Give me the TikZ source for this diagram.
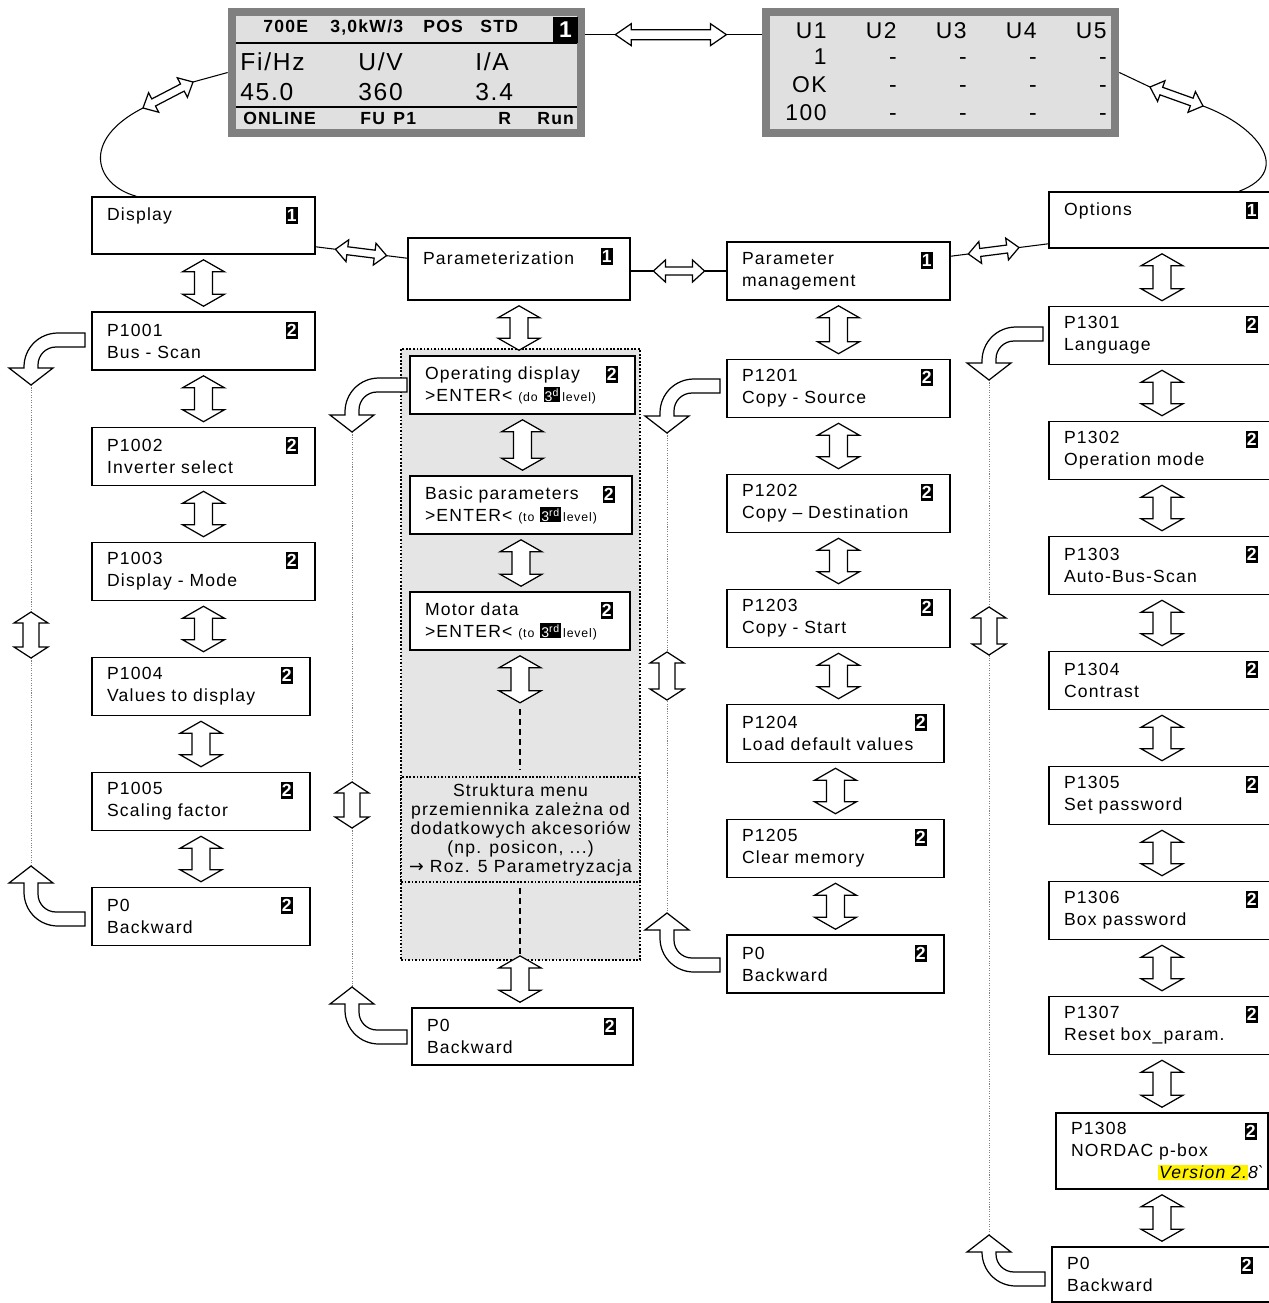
\documentclass[tikz,border=0pt]{standalone}
\usepackage{fontspec}
\setmainfont{Liberation Sans}[LetterSpace=7]
\newfontfamily\arrowfont{DejaVu Sans}
\usepackage{tikz}
\usetikzlibrary{calc}
\usepackage{xcolor}

\newdimen\pxu
\pxu=0.02cm
\setlength{\fboxsep}{0.6pt}
\definecolor{lcdface}{gray}{0.88}
\definecolor{lcdrim}{gray}{0.5}
\definecolor{areagray}{gray}{0.9}

% hollow double arrow: from, to, half head, half shaft, head length (px)
\newcommand\hollowdbl[5]{%
  \coordinate (dA) at ($(#1)!#5*0.569pt!(#2)$);
  \coordinate (dB) at ($(#2)!#5*0.569pt!(#1)$);
  \draw[hollow] (#1) -- ($(dA)!#3*0.569pt!90:(#2)$) -- ($(dA)!#4*0.569pt!90:(#2)$)
    -- ($(dB)!#4*0.569pt!-90:(#1)$) -- ($(dB)!#3*0.569pt!-90:(#1)$) -- (#2)
    -- ($(dB)!#3*0.569pt!90:(#1)$) -- ($(dB)!#4*0.569pt!90:(#1)$)
    -- ($(dA)!#4*0.569pt!-90:(#2)$) -- ($(dA)!#3*0.569pt!-90:(#2)$) -- cycle;}
\newcommand\vstep[2]{%
  \coordinate (#1-d) at ($(#1.south)+(0,5)$);
  \coordinate (#2-u) at ($(#1.south |- #2.north)+(0,-5)$);
  \hollowdbl{#1-d}{#2-u}{21}{9}{12}}
\newcommand\lvl[3][-24]{\node[num] (#2-n) at ($(#2.north east)+(#1,19)$) {#3};}
% bent return arrow: shaft end x, shaft y, tip x, tip y, 1 down / -1 up
\newcommand\bentarr[5]{%
  \draw[hollow] (#1,{#2-(#5)*7}) -- ({#3+27},{#2-(#5)*7})
    .. controls ({#3+8},{#2-(#5)*7}) and ({#3-7},{#2+(#5)*8}) .. ({#3-7},{#2+(#5)*27})
    -- ({#3-7},{#4-(#5)*17}) -- ({#3-22},{#4-(#5)*17}) -- (#3,#4)
    -- ({#3+22},{#4-(#5)*17}) -- ({#3+7},{#4-(#5)*17})
    -- ({#3+7},{#2+(#5)*25}) .. controls ({#3+7},{#2+(#5)*15}) and ({#3+15},{#2+(#5)*7}) .. ({#3+25},{#2+(#5)*7})
    -- (#1,{#2+(#5)*7}) -- cycle;}
\newcommand\lvlnote[3]{{\fontsize{7}{7}\selectfont(#1 \colorbox{black}{\textcolor{white}{\fontsize{8}{8}\selectfont#2\textsuperscript{#3}}}\,level)}}

\begin{document}
\begin{tikzpicture}[x=0.02cm,y=-0.02cm,font=\fontsize{10}{12.5}\selectfont,
  box/.style={draw,fill=white,line width=0.9pt,minimum height=58\pxu,inner xsep=15\pxu,inner ysep=0pt,align=left},
  bw/.code={\pgfmathsetlengthmacro\boxtw{(#1-30)*\pxu}\pgfkeysalso{minimum width=#1\pxu,text width=\boxtw}},
  num/.style={fill=black,text=white,font=\bfseries\fontsize{10}{10}\selectfont,inner sep=0.5pt,minimum width=12\pxu,minimum height=17\pxu},
  hollow/.style={draw,fill=white,line width=0.7pt,line join=miter},
  link/.style={line width=0.6pt},
  dotline/.style={gray,line width=0.5pt,dash pattern=on 0.6pt off 0.8pt},
  dashline/.style={line width=0.7pt,dash pattern=on 3.4pt off 2.3pt},
  area/.style={fill=areagray,draw,line width=1pt,dash pattern=on 1pt off 1pt,inner sep=0pt},
  lcdframe/.style={fill=lcdrim,inner sep=0pt,minimum width=357\pxu,minimum height=129\pxu},
  lcdhead/.style={font=\bfseries\fontsize{10}{10}\selectfont,anchor=base west,inner sep=0pt},
  lcdbig/.style={font=\fontsize{14}{14}\selectfont,anchor=base west,inner sep=0pt},
  lcdval/.style={font=\fontsize{13}{13}\selectfont,anchor=base east,inner sep=0pt}]
\useasboundingbox (0,0) rectangle (1269,1303);
\clip (0,0) rectangle (1269,1303);

% operating display
\node[lcdframe] (lcdL) at (406.5,72.5) {};
\fill[lcdface] ($(lcdL.south west)+(8,-8)$) rectangle ($(lcdL.north east)+(-8,8)$);
\draw[line width=1.1pt] ($(lcdL.north west)+(8,35)$) -- ($(lcdL.north east)+(-8,35)$);
\draw[line width=1.1pt] ($(lcdL.north west)+(8,99)$) -- ($(lcdL.north east)+(-8,99)$);
\node[lcdhead] (h1) at (263,32) {700E};
\node[lcdhead] (h2) at (330,32) {3,0kW/3};
\node[lcdhead] (h3) at (423,32) {POS};
\node[lcdhead] (h4) at (480,32) {STD};
\node[num,font=\bfseries\fontsize{13}{13}\selectfont,minimum width=25\pxu,minimum height=26\pxu] (lcdL-n) at (565.5,30) {1};
\node[lcdbig] (r1a) at (240,70) {Fi/Hz};
\node[lcdbig] (r1b) at (358,70) {U/V};
\node[lcdbig] (r1c) at (475,70) {I/A};
\node[lcdbig] (r2a) at (240,100) {45.0};
\node[lcdbig] (r2b) at (358,100) {360};
\node[lcdbig] (r2c) at (475,100) {3.4};
\node[lcdhead] (f1) at (243,124) {ONLINE};
\node[lcdhead] (f2) at (360,124) {FU};
\node[lcdhead] (f3) at (393,124) {P1};
\node[lcdhead] (f4) at (498,124) {R};
\node[lcdhead] (f5) at (537,124) {Run};

% bus display
\node[lcdframe] (lcdR) at (940.5,72.5) {};
\fill[lcdface] ($(lcdR.south west)+(8,-8)$) rectangle ($(lcdR.north east)+(-8,8)$);
\node[lcdval] (ua1) at (827,38) {U1};
\node[lcdval] (ua2) at (897,38) {U2};
\node[lcdval] (ua3) at (967,38) {U3};
\node[lcdval] (ua4) at (1037,38) {U4};
\node[lcdval] (ua5) at (1107,38) {U5};
\node[lcdval] (ub1) at (827,64) {1};
\node[lcdval] (ub2) at (897,64) {-};
\node[lcdval] (ub3) at (967,64) {-};
\node[lcdval] (ub4) at (1037,64) {-};
\node[lcdval] (ub5) at (1107,64) {-};
\node[lcdval] (uc1) at (827,92) {OK};
\node[lcdval] (uc2) at (897,92) {-};
\node[lcdval] (uc3) at (967,92) {-};
\node[lcdval] (uc4) at (1037,92) {-};
\node[lcdval] (uc5) at (1107,92) {-};
\node[lcdval] (ud1) at (827,120) {100};
\node[lcdval] (ud2) at (897,120) {-};
\node[lcdval] (ud3) at (967,120) {-};
\node[lcdval] (ud4) at (1037,120) {-};
\node[lcdval] (ud5) at (1107,120) {-};

\coordinate (t1) at ($(lcdL.north east)+(0,27)$);
\coordinate (t2) at ($(lcdR.north west)+(0,27)$);
\draw[link] (t1) -- (t2);
\coordinate (t1a) at ($(t1)!0.17!(t2)$);
\coordinate (t2a) at ($(t1)!0.8!(t2)$);
\hollowdbl{t1a}{t2a}{11}{5}{16}

% middle area
\node[area,minimum width=239\pxu,minimum height=611\pxu] (grp) at (520.5,654.5) {};
\node[area,minimum width=239\pxu,minimum height=105\pxu,align=center,font=\fontsize{10}{10.8}\selectfont] (note) at (520.5,829.5)
  {Struktura menu\\przemiennika zależna od\\dodatkowych akcesoriów\\(np. posicon, ...)\\{\arrowfont →} Roz. 5 Parametryzacja};

% display column
\node[box,bw=223,minimum height=57\pxu] (disp) at (203.5,225.5) {Display\\~};
\node[box,bw=223] (p1001) at (203.5,341) {P1001\\Bus - Scan};
\node[box,bw=223] (p1002) at (203.5,456.5) {P1002\\Inverter select};
\node[box,bw=223] (p1003) at (203.5,571.5) {P1003\\Display - Mode};
\node[box,bw=218] (p1004) at (201,686.5) {P1004\\Values to display};
\node[box,bw=218] (p1005) at (201,801.5) {P1005\\Scaling factor};
\node[box,bw=218] (back1) at (201,916.5) {P0\\Backward};

% parameterization column
\node[box,bw=222,minimum height=62\pxu] (param) at (519,269) {Parameterization\\~};
\node[box,bw=225] (opdisp) at (522.5,385) {Operating display\\>ENTER< \lvlnote{do}{3}{d}};
\node[box,bw=222] (basic) at (521,505) {Basic parameters\\>ENTER< \lvlnote{to}{3}{rd}};
\node[box,bw=220] (motor) at (520,621) {Motor data\\>ENTER< \lvlnote{to}{3}{rd}};
\node[box,bw=221,minimum height=57\pxu] (back2) at (522.5,1036.5) {P0\\Backward};

% parameter management column
\node[box,bw=223] (pm) at (838.5,271) {Parameter\\management};
\node[box,bw=223] (p1201) at (838.5,388.5) {P1201\\Copy - Source};
\node[box,bw=223] (p1202) at (838.5,503.5) {P1202\\Copy – Destination};
\node[box,bw=223] (p1203) at (838.5,618.5) {P1203\\Copy - Start};
\node[box,bw=217] (p1204) at (835.5,733.5) {P1204\\Load default values};
\node[box,bw=217] (p1205) at (835.5,848.5) {P1205\\Clear memory};
\node[box,bw=217] (back3) at (835.5,964) {P0\\Backward};

% options column
\node[box,bw=226,minimum height=56\pxu] (opts) at (1162,220) {Options\\~};
\node[box,bw=226] (p1301) at (1162,335.5) {P1301\\Language};
\node[box,bw=226] (p1302) at (1162,450.5) {P1302\\Operation mode};
\node[box,bw=226] (p1303) at (1162,565.5) {P1303\\Auto-Bus-Scan};
\node[box,bw=226] (p1304) at (1162,680.5) {P1304\\Contrast};
\node[box,bw=226] (p1305) at (1162,795.5) {P1305\\Set password};
\node[box,bw=226] (p1306) at (1162,910.5) {P1306\\Box password};
\node[box,bw=226] (p1307) at (1162,1025.5) {P1307\\Reset box\_param.};
\node[box,bw=212,minimum height=76\pxu] (p1308) at (1162,1151)
  {P1308\\NORDAC p-box\\\hspace*{87\pxu}\rlap{\itshape\colorbox{yellow}{Version 2.}8\textasciigrave}};
\node[box,bw=223,minimum height=55\pxu] (back4) at (1163.5,1274.5) {P0\\Backward};

\lvl{disp}{1}
\lvl{p1001}{2}
\lvl{p1002}{2}
\lvl{p1003}{2}
\lvl{p1004}{2}
\lvl{p1005}{2}
\lvl{back1}{2}
\lvl{param}{1}
\lvl{opdisp}{2}
\lvl{basic}{2}
\lvl{motor}{2}
\lvl{back2}{2}
\lvl{pm}{1}
\lvl{p1201}{2}
\lvl{p1202}{2}
\lvl{p1203}{2}
\lvl{p1204}{2}
\lvl{p1205}{2}
\lvl{back3}{2}
\lvl{opts}{1}
\lvl{p1301}{2}
\lvl{p1302}{2}
\lvl{p1303}{2}
\lvl{p1304}{2}
\lvl{p1305}{2}
\lvl{p1306}{2}
\lvl{p1307}{2}
\lvl[-18]{p1308}{2}
\lvl[-29]{back4}{2}

% up/down steps
\vstep{disp}{p1001}
\vstep{p1001}{p1002}
\vstep{p1002}{p1003}
\vstep{p1003}{p1004}
\vstep{p1004}{p1005}
\vstep{p1005}{back1}
\vstep{param}{opdisp}
\vstep{opdisp}{basic}
\vstep{basic}{motor}
\vstep{pm}{p1201}
\vstep{p1201}{p1202}
\vstep{p1202}{p1203}
\vstep{p1203}{p1204}
\vstep{p1204}{p1205}
\vstep{p1205}{back3}
\vstep{opts}{p1301}
\vstep{p1301}{p1302}
\vstep{p1302}{p1303}
\vstep{p1303}{p1304}
\vstep{p1304}{p1305}
\vstep{p1305}{p1306}
\vstep{p1306}{p1307}
\vstep{p1307}{p1308}
\vstep{p1308}{back4}

\coordinate (mo1) at ($(motor.south)+(0,5)$);
\coordinate (mo2) at ($(motor.south)+(0,52)$);
\hollowdbl{mo1}{mo2}{21}{9}{12}
\draw[dashline] ($(mo2)+(0,6)$) -- ($(mo2 |- note.north)+(0,-7)$);
\draw[dashline] ($(mo2 |- note.south)+(0,5)$) -- ($(mo2 |- note.south)+(0,71)$);
\coordinate (bk1) at ($(mo2 |- grp.south)+(0,-5)$);
\coordinate (bk2) at ($(mo2 |- back2.north)+(0,-5)$);
\hollowdbl{bk1}{bk2}{21}{9}{12}

% links between the menu heads
\coordinate (c1) at ($(disp.south east)+(0,-8)$);
\coordinate (c2) at ($(param.north west)+(0,21)$);
\draw[link] (c1) -- (c2);
\coordinate (c1a) at ($(c1)!0.215!(c2)$);
\coordinate (c2a) at ($(c1)!0.774!(c2)$);
\hollowdbl{c1a}{c2a}{11}{4}{12}
\coordinate (c3) at (param.east |- pm.east);
\coordinate (c4) at (pm.west);
\draw[link] (c3) -- (c4);
\coordinate (c3a) at ($(c3)!0.237!(c4)$);
\coordinate (c4a) at ($(c3)!0.773!(c4)$);
\hollowdbl{c3a}{c4a}{11}{4}{12}
\coordinate (c5) at ($(pm.north east)+(0,15)$);
\coordinate (c6) at ($(opts.south west)+(0,-5)$);
\draw[link] (c5) -- (c6);
\coordinate (c5a) at ($(c5)!0.18!(c6)$);
\coordinate (c6a) at ($(c5)!0.7!(c6)$);
\hollowdbl{c5a}{c6a}{11}{4}{12}

\coordinate (cl1) at (193,82);
\coordinate (cl2) at (143,108);
\draw[link] (lcdL.west) -- (cl1);
\draw[link] (cl2) .. controls (80,140) and (95,185) .. ($(disp.north west)+(45,0)$);
\hollowdbl{cl1}{cl2}{11}{4}{12}
\coordinate (cr1) at (1150,87);
\coordinate (cr2) at (1203,106);
\draw[link] (lcdR.east) -- (cr1);
\draw[link] (cr2) .. controls (1255,125) and (1295,170) .. ($(opts.north west)+(191,0)$);
\hollowdbl{cr1}{cr2}{11}{4}{12}

% backward paths
\coordinate (ret1a) at (31,385);
\coordinate (ret1b) at (31,866);
\draw[dotline] (ret1a) -- (ret1b);
\coordinate (s1a) at (31,612);
\coordinate (s1b) at (31,658);
\hollowdbl{s1a}{s1b}{17}{8}{11}
\bentarr{85}{340}{31}{385}{1}
\bentarr{85}{919}{31}{866}{-1}

\coordinate (ret2a) at (352,432);
\coordinate (ret2b) at (352,987);
\draw[dotline] (ret2a) -- (ret2b);
\coordinate (s2a) at (352,782);
\coordinate (s2b) at (352,828);
\hollowdbl{s2a}{s2b}{17}{8}{11}
\bentarr{407}{385}{352}{432}{1}
\bentarr{407}{1037}{352}{987}{-1}

\coordinate (ret3a) at (667,433);
\coordinate (ret3b) at (667,913);
\draw[dotline] (ret3a) -- (ret3b);
\coordinate (s3a) at (667,652);
\coordinate (s3b) at (667,700);
\hollowdbl{s3a}{s3b}{17}{8}{11}
\bentarr{720}{386}{667}{433}{1}
\bentarr{720}{965}{667}{913}{-1}

\coordinate (ret4a) at (989,380);
\coordinate (ret4b) at (989,1235);
\draw[dotline] (ret4a) -- (ret4b);
\coordinate (s4a) at (989,607);
\coordinate (s4b) at (989,655);
\hollowdbl{s4a}{s4b}{17}{8}{11}
\bentarr{1043}{334}{989}{380}{1}
\bentarr{1045}{1279}{989}{1235}{-1}
\end{tikzpicture}
\end{document}
